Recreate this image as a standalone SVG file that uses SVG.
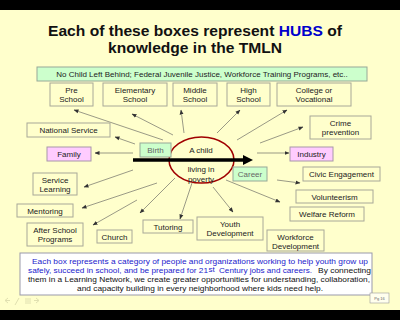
<svg xmlns="http://www.w3.org/2000/svg" width="400" height="320" viewBox="0 0 400 320">
<defs>
<marker id="ah" viewBox="0 0 10 10" refX="9" refY="5" markerWidth="5" markerHeight="5" orient="auto" markerUnits="userSpaceOnUse">
<path d="M0,1 L10,5 L0,9 z" fill="#333"/>
</marker>
<style>
.bx{fill:#FFFFCC;stroke:#A8A898;stroke-width:1}
.pk{fill:#FFCCFF;stroke:#A898A8;stroke-width:1}
.gr{fill:#CCFFCC;stroke:#98A898;stroke-width:1}
.t{font-family:"Liberation Sans",Arial,sans-serif;font-size:8px;fill:#222;text-anchor:middle}
.tg{font-family:"Liberation Sans",Arial,sans-serif;font-size:8px;fill:#666;text-anchor:middle}
.c{stroke:#555;stroke-width:0.6;fill:none;marker-end:url(#ah)}
.bt{font-family:"Liberation Sans",Arial,sans-serif;font-size:8px;fill:#111}
.bl{fill:#2222CC}
</style>
</defs>
<rect x="0" y="0" width="400" height="320" fill="#FFFFCC"/>
<rect x="0" y="0" width="400" height="10" fill="#000"/>
<rect x="0" y="310" width="400" height="10" fill="#000"/>

<g id="title" font-family="'Liberation Sans',Arial,sans-serif" font-weight="bold" font-size="15.2" fill="#111">
<text x="48" y="36" textLength="294" lengthAdjust="spacingAndGlyphs">Each of these boxes represent <tspan fill="#0000CC">HUBS</tspan> of</text>
<text x="108" y="53" textLength="174" lengthAdjust="spacingAndGlyphs">knowledge in the TMLN</text>
</g>

<g id="nclb"><rect x="37" y="67" width="330" height="14" class="gr"/><text class="t" x="202" y="77" font-size="7.4">No Child Left Behind; Federal Juvenile Justice, Workforce Training Programs, etc..</text></g>

<g id="connectors">
<line class="c" x1="163" y1="140" x2="74" y2="110"/>
<line class="c" x1="173" y1="135" x2="132" y2="114"/>
<line class="c" x1="184" y1="133" x2="181" y2="110"/>
<line class="c" x1="217" y1="133" x2="240" y2="110"/>
<line class="c" x1="237" y1="140" x2="287" y2="110"/>
<line class="c" x1="260" y1="143" x2="303" y2="127"/>
<line class="c" x1="257" y1="153" x2="289" y2="153"/>
<line class="c" x1="135" y1="144" x2="115" y2="137"/>
<line class="c" x1="133" y1="153" x2="95" y2="153"/>
<line class="c" x1="133" y1="170" x2="84" y2="187"/>
<line class="c" x1="157" y1="183" x2="82" y2="208"/>
<line class="c" x1="137" y1="200" x2="93" y2="225"/>
<line class="c" x1="175" y1="178" x2="140" y2="213"/>
<line class="c" x1="192" y1="183" x2="180" y2="219"/>
<line class="c" x1="213" y1="187" x2="233" y2="212"/>
<line class="c" x1="226" y1="180" x2="280" y2="202"/>
<line class="c" x1="277" y1="180" x2="300" y2="183"/>
</g>

<g id="center">
<ellipse cx="201.5" cy="160" rx="32.5" ry="23" fill="none" stroke="#A00000" stroke-width="1.5"/>
<text class="t" x="201" y="153">A child</text>
<text class="t" x="201" y="172">living in</text>
<text class="t" x="201" y="182">poverty</text>
<line x1="133" y1="160" x2="245" y2="160" stroke="#000" stroke-width="3.5"/>
<path d="M243,155 L253,160 L243,165 z" fill="#000"/>
</g>

<g id="preschool"><rect x="50" y="83" width="43" height="23" class="bx"/><text class="t" x="71.5" y="93">Pre</text><text class="t" x="71.5" y="102">School</text></g>
<g id="elementary"><rect x="103" y="83" width="64" height="23" class="bx"/><text class="t" x="135" y="93">Elementary</text><text class="t" x="135" y="102">School</text></g>
<g id="middle"><rect x="173" y="83" width="44" height="23" class="bx"/><text class="t" x="195" y="93">Middle</text><text class="t" x="195" y="102">School</text></g>
<g id="high"><rect x="227" y="83" width="43" height="23" class="bx"/><text class="t" x="248.5" y="93">High</text><text class="t" x="248.5" y="102">School</text></g>
<g id="college"><rect x="277" y="83" width="74" height="23" class="bx"/><text class="t" x="314" y="93">College or</text><text class="t" x="314" y="102">Vocational</text></g>
<g id="national"><rect x="27" y="123" width="83" height="14" class="bx"/><text class="t" x="68.5" y="133">National Service</text></g>
<g id="family"><rect x="47" y="147" width="44" height="14" class="pk"/><text class="t" x="69" y="157">Family</text></g>
<g id="birth"><rect x="140" y="143" width="31" height="14" class="gr"/><text class="tg" x="155.5" y="153">Birth</text></g>
<g id="crime"><rect x="310" y="116" width="61" height="23" class="bx"/><text class="t" x="340.5" y="126">Crime</text><text class="t" x="340.5" y="135">prevention</text></g>
<g id="industry"><rect x="290" y="147" width="43" height="14" class="pk"/><text class="t" x="311.5" y="157">Industry</text></g>
<g id="career"><rect x="233" y="167" width="34" height="14" class="gr"/><text class="tg" x="250" y="177">Career</text></g>
<g id="civic"><rect x="303" y="167" width="77" height="14" class="bx"/><text class="t" x="341.5" y="177">Civic Engagement</text></g>
<g id="service"><rect x="33" y="173" width="44" height="22" class="bx"/><text class="t" x="55" y="183">Service</text><text class="t" x="55" y="192">Learning</text></g>
<g id="volunteerism"><rect x="296" y="190" width="77" height="13" class="bx"/><text class="t" x="334.5" y="200">Volunteerism</text></g>
<g id="mentoring"><rect x="17" y="204" width="56" height="13" class="bx"/><text class="t" x="45" y="214">Mentoring</text></g>
<g id="welfare"><rect x="290" y="207" width="74" height="14" class="bx"/><text class="t" x="327" y="217">Welfare Reform</text></g>
<g id="afterschool"><rect x="27" y="223" width="56" height="23" class="bx"/><text class="t" x="55" y="233">After School</text><text class="t" x="55" y="242">Programs</text></g>
<g id="church"><rect x="97" y="230" width="35" height="13" class="bx"/><text class="t" x="114.5" y="240">Church</text></g>
<g id="tutoring"><rect x="143" y="220" width="50" height="13" class="bx"/><text class="t" x="168" y="230">Tutoring</text></g>
<g id="youth"><rect x="197" y="217" width="66" height="23" class="bx"/><text class="t" x="230" y="227">Youth</text><text class="t" x="230" y="236">Development</text></g>
<g id="workforce"><rect x="267" y="230" width="57" height="21" class="bx"/><text class="t" x="295.5" y="240">Workforce</text><text class="t" x="295.5" y="249">Development</text></g>

<g id="note">
<rect x="20" y="253" width="352" height="42" fill="#FFFFFF" stroke="#9999AA" stroke-width="1"/>
<text class="bt bl" x="32" y="263.5" textLength="336" lengthAdjust="spacingAndGlyphs">Each box represents a category of people and organizations working to help youth grow up</text>
<text class="bt bl" x="28" y="273" textLength="180" lengthAdjust="spacingAndGlyphs">safely, succeed in school, and be prepared for 21</text>
<text class="bt bl" x="208.5" y="271.5" font-size="4.5">st</text>
<text class="bt bl" x="219" y="273" textLength="93" lengthAdjust="spacingAndGlyphs">Century jobs and careers.</text>
<text class="bt" x="318" y="273" textLength="53" lengthAdjust="spacingAndGlyphs">By connecting</text>
<text class="bt" x="28" y="282" textLength="342" lengthAdjust="spacingAndGlyphs">them in a Learning Network, we create greater opportunities for understanding, collaboration,</text>
<text class="bt" x="77" y="291" textLength="246" lengthAdjust="spacingAndGlyphs">and capacity building in every neighborhood where kids need help.</text>
</g>

<g id="pg"><rect x="370" y="293" width="19" height="10" fill="#FFFFEE" stroke="#999" stroke-width="0.6"/><text x="379.5" y="300" font-family="'Liberation Sans',Arial,sans-serif" font-size="4" text-anchor="middle" fill="#666">Pg 16</text></g>

<g id="nav" stroke="#E0E0B0" stroke-width="1" fill="none">
<path d="M8,303 L5,300.5 L8,298 M5,300.5 L10,300.5"/>
<path d="M15,305 L19,298"/>
<path d="M25,299 H31 M25,301 H31 M25,303 H31"/>
<path d="M36,303 L39,300.5 L36,298 M34,300.5 L39,300.5"/>
</g>
</svg>
